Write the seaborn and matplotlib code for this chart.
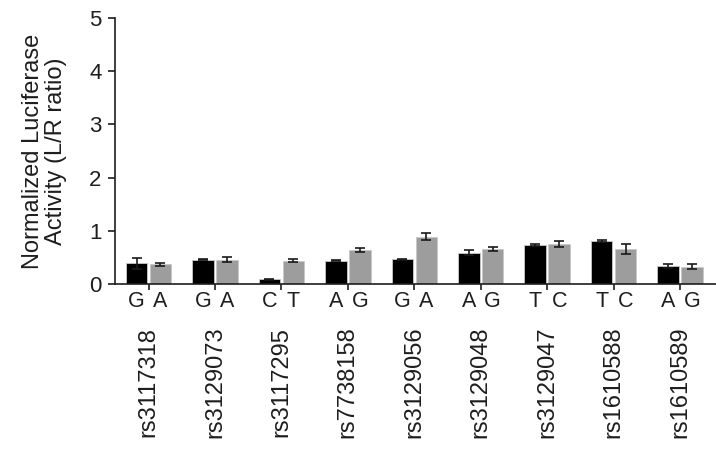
import numpy as np
import pandas as pd
import matplotlib.pyplot as plt
import matplotlib.transforms as mtransforms
import seaborn as sns

snps = ['rs3117318', 'rs3129073', 'rs3117295', 'rs7738158', 'rs3129056',
        'rs3129048', 'rs3129047', 'rs1610588', 'rs1610589']
allele1 = ['G', 'G', 'C', 'A', 'G', 'A', 'T', 'T', 'A']
allele2 = ['A', 'A', 'T', 'G', 'A', 'G', 'C', 'C', 'G']
val1 = [0.39, 0.46, 0.09, 0.44, 0.47, 0.59, 0.73, 0.81, 0.34]
val2 = [0.37, 0.46, 0.44, 0.64, 0.89, 0.66, 0.75, 0.66, 0.33]
err1 = [0.10, 0.01, 0.01, 0.01, 0.01, 0.05, 0.02, 0.02, 0.04]
err2 = [0.02, 0.05, 0.03, 0.04, 0.07, 0.03, 0.06, 0.10, 0.05]

df = pd.DataFrame({
    'snp': snps * 2,
    'allele': ['first'] * 9 + ['second'] * 9,
    'value': val1 + val2,
})

plt.rcParams['font.family'] = ['Liberation Sans', 'DejaVu Sans']
txt = '#1e1e1e'

fig = plt.figure(figsize=(7.16, 4.51), dpi=100)
ax = fig.add_axes([0.161, 0.370, 0.839, 0.590])

sns.barplot(data=df, x='snp', y='value', hue='allele', order=snps,
            hue_order=['first', 'second'], palette=['#000000', '#9d9d9d'],
            errorbar=None, width=0.72, gap=0.1, legend=False, ax=ax,
            edgecolor='#c8c8c8', linewidth=0.6)

# error bars and allele letters under each bar
trans = mtransforms.blended_transform_factory(ax.transData, ax.transAxes)
bars = ax.patches
for i, p in enumerate(bars[:18]):
    xc = p.get_x() + p.get_width() / 2
    grp, k = i % 9, i // 9
    e = (err1, err2)[k][grp]
    v = (val1, val2)[k][grp]
    ax.errorbar(xc, v, yerr=e, fmt='none', ecolor='#1a1a1a', elinewidth=1.2,
                capsize=3.5, capthick=1.2, zorder=5)
    ax.text(xc, -0.025, (allele1, allele2)[k][grp], transform=trans,
            ha='center', va='top', fontsize=15.5, color=txt)

for g, name in enumerate(snps):
    ax.text(g, -0.16, name, transform=trans, rotation=90, ha='center',
            va='top', fontsize=17, color=txt)

ax.set_ylim(0, 5)
ax.set_xlim(-0.5, 8.54)
ax.set_yticks([0, 1, 2, 3, 4, 5])
ax.set_xticks(range(9))
ax.set_xticklabels([])
ax.tick_params(axis='y', labelsize=16, length=5, width=1.2, pad=5,
               colors=txt)
ax.tick_params(axis='x', length=4, width=1.2, direction='out', colors=txt)
ax.set_xlabel('')
ax.set_ylabel('Normalized Luciferase\nActivity (L/R ratio)', fontsize=17,
              color=txt, labelpad=16, linespacing=1.05)
sns.despine(ax=ax)
for s in ['left', 'bottom']:
    ax.spines[s].set_linewidth(1.2)
    ax.spines[s].set_color(txt)

fig.savefig('out.png', dpi=100)
